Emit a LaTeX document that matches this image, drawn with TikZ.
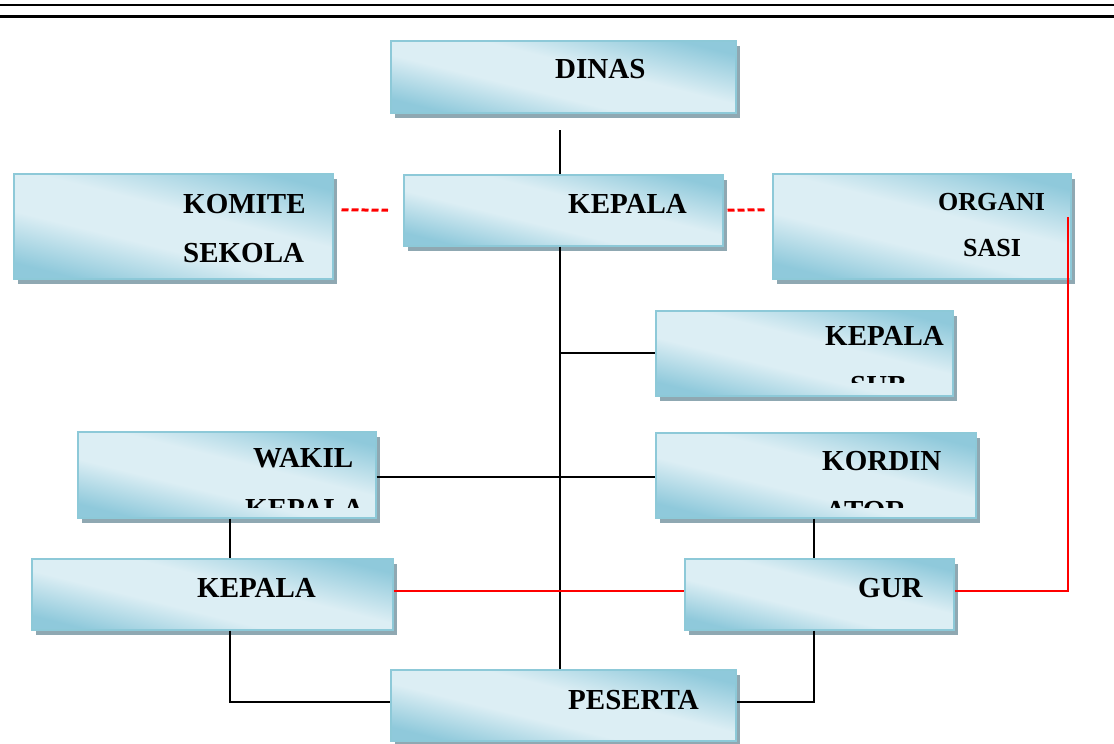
\documentclass[tikz,border=0pt]{standalone}
\usepackage{fontspec}
\setmainfont{Liberation Serif}
\usetikzlibrary{calc,shadows}
\definecolor{boxdark}{HTML}{8FC9DB}
\definecolor{boxlight}{HTML}{DCEEF4}
\definecolor{boxborder}{HTML}{8DC9D8}
\definecolor{boxshadow}{HTML}{8FA8B2}
\pgfdeclareverticalshading{boxshade}{100bp}{color(0bp)=(boxdark); color(25bp)=(boxdark); color(42bp)=(boxlight); color(56bp)=(boxlight); color(75bp)=(boxdark); color(100bp)=(boxdark)}
\begin{document}
\begin{tikzpicture}[x=1pt,y=-1pt,
  orgbox/.style={draw=boxborder, line width=1.5pt, shading=boxshade, shading angle=-14, inner sep=0pt, anchor=north west,
    drop shadow={shadow xshift=4.5pt, shadow yshift=-5pt, fill=boxshadow, opacity=1}},
  lbl/.style={inner sep=0pt, anchor=base west, font=\bfseries\fontsize{29}{29}\selectfont},
  lblsmall/.style={inner sep=0pt, anchor=base west, font=\bfseries\fontsize{26}{26}\selectfont},
  conn/.style={line width=1.8pt, black},
  redconn/.style={line width=1.8pt, red},
  reddash/.style={line width=3pt, red, dash pattern=on 7pt off 3pt}]
\useasboundingbox (0,0) rectangle (1114,744);
% top rules
\draw[line width=2.5pt] (0,5) -- (1114,5);
\draw[line width=3pt] (0,16) -- (1114,16);
% boxes
\node[orgbox, minimum width=345pt, minimum height=72pt] (dinas) at (390,40) {};
\node[orgbox, minimum width=319pt, minimum height=71pt] (kepala) at (403,174) {};
\node[orgbox, minimum width=319pt, minimum height=105pt] (komite) at (13,173) {};
\node[orgbox, minimum width=298pt, minimum height=105pt] (organi) at (772,173) {};
\node[orgbox, minimum width=297pt, minimum height=85pt] (kepsub) at (655,310) {};
\node[orgbox, minimum width=320pt, minimum height=85pt] (kordin) at (655,432) {};
\node[orgbox, minimum width=298pt, minimum height=86pt] (wakil) at (77,431) {};
\node[orgbox, minimum width=361pt, minimum height=71pt] (kepkiri) at (31,558) {};
\node[orgbox, minimum width=269pt, minimum height=71pt] (gur) at (684,558) {};
\node[orgbox, minimum width=345pt, minimum height=71pt] (peserta) at (390,669) {};
% labels
\node[lbl] (tdinas) at (555,78) {DINAS};
\node[lbl] (tkepala) at (568,213) {KEPALA};
\node[lbl] (tkomite) at (183,213) {KOMITE};
\node[lbl] (tsekola) at (183,262) {SEKOLA};
\node[lblsmall] (torgani) at (938,210) {ORGANI};
\node[lblsmall] (tsasi) at (963,256) {SASI};
\node[lbl] (tkepsub) at (825,345) {KEPALA};
\begin{scope}
\clip (655,310) rectangle (952,382);
\node[lbl] (tsub) at (850,395) {SUB};
\end{scope}
\node[lbl] (tkordin) at (822,470) {KORDIN};
\begin{scope}
\clip (655,432) rectangle (975,507);
\node[lbl] (tator) at (825,520) {ATOR};
\end{scope}
\node[lbl] (twakil) at (253,467) {WAKIL};
\begin{scope}
\clip (77,431) rectangle (375,507);
\node[lbl] (twkepala) at (245,518) {KEPALA};
\end{scope}
\node[lbl] (tkepkiri) at (197,597) {KEPALA};
\node[lbl] (tgur) at (858,597) {GUR};
\node[lbl] (tpeserta) at (568,709) {PESERTA};
% connectors
\coordinate (d0) at (560,130);
\coordinate (t) at (560,0);
\coordinate (l) at (230,0);
\coordinate (r) at (814,0);
\coordinate (o) at (1068,217);
\draw[conn] (d0) -- (d0 |- kepala.north);
\draw[conn] (t |- kepala.south) -- (t |- peserta.north);
\draw[conn] (t |- kepsub.west) -- (kepsub.west);
\draw[conn] ($(wakil.east)+(0,2)$) -- ($(kordin.west)+(0,1.5)$);
\draw[conn] (l |- wakil.south) -- (l |- kepkiri.north);
\draw[conn] (l |- kepkiri.south) |- ($(peserta.west)+(0,-3.5)$);
\draw[conn] (r |- kordin.south) -- (r |- gur.north);
\draw[conn] (r |- gur.south) |- ($(peserta.east)+(0,-3.5)$);
\draw[redconn] ($(kepkiri.east)+(0,-3.5)$) -- ($(gur.west)+(0,-3.5)$);
\draw[redconn] ($(gur.east)+(0,-3.5)$) -| (o);
\draw[reddash] ($(komite.east)+(8,-16.5)$) -- ([xshift=-15pt]kepala.west);
\draw[reddash] ([xshift=4pt]kepala.east) -- ($(organi.west)+(-7,-16.5)$);
\end{tikzpicture}
\end{document}
